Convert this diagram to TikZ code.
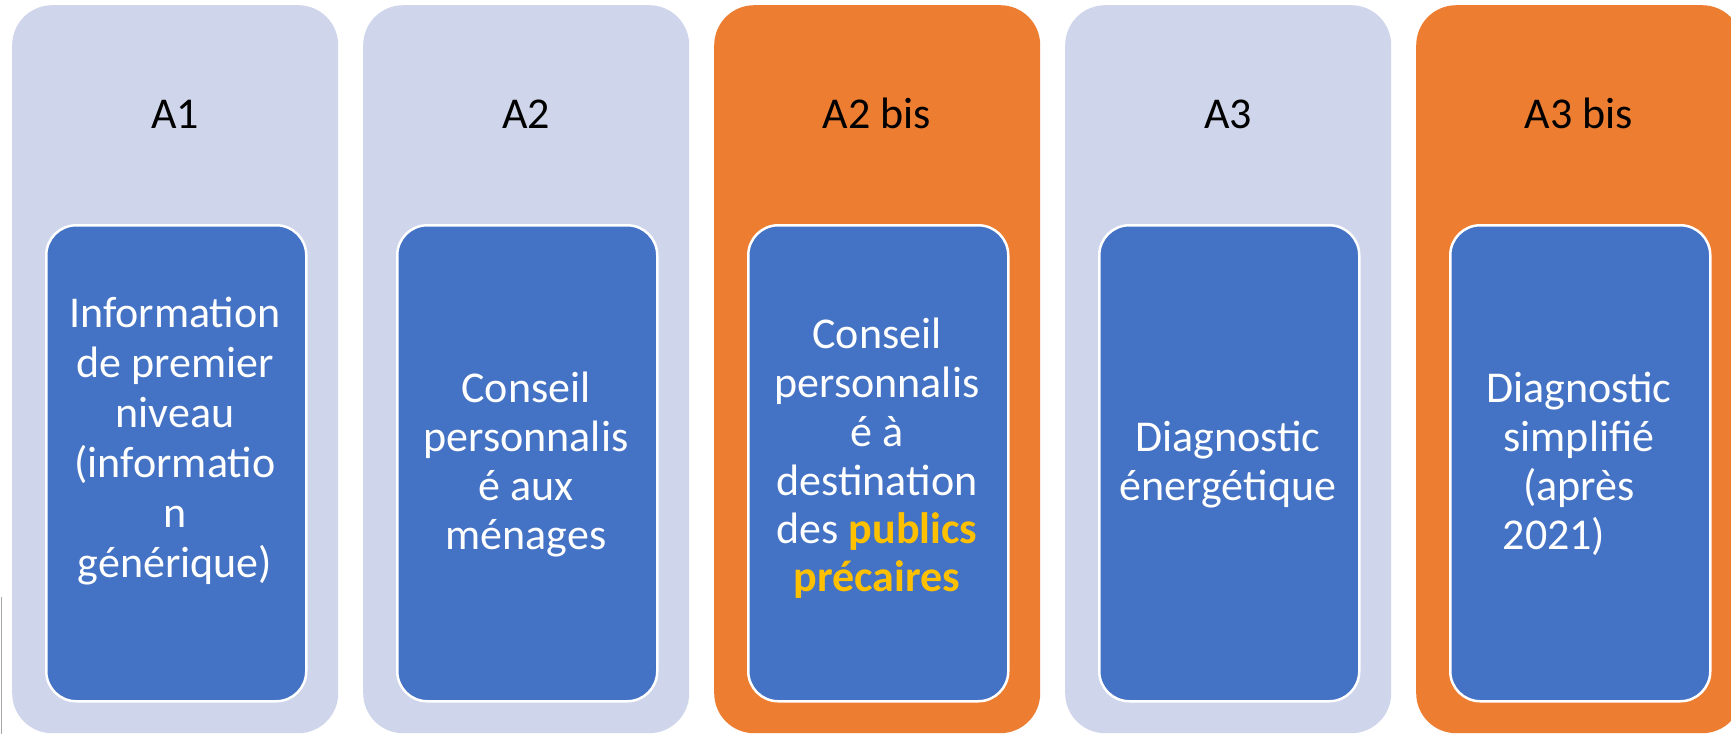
\documentclass[tikz,border=0pt]{standalone}
\usepackage{fontspec}
\setmainfont{Carlito}
\definecolor{outerlight}{HTML}{CFD5EA}
\definecolor{outerorange}{HTML}{ED7D31}
\definecolor{innerblue}{HTML}{4472C4}
\definecolor{hiyellow}{HTML}{FFC000}
\begin{document}
\begin{tikzpicture}[x=1pt,y=-1pt,
  outerbox/.style={rectangle, rounded corners=40pt, minimum width=326pt, minimum height=728pt, anchor=north west, inner sep=0pt},
  lightbox/.style={outerbox, fill=outerlight},
  orangebox/.style={outerbox, fill=outerorange},
  innerbox/.style={rectangle, fill=innerblue, draw=white, line width=2.5pt, rounded corners=30pt, minimum width=260pt, minimum height=476pt, anchor=north west, inner sep=0pt},
  title/.style={font=\fontsize{44pt}{50pt}\selectfont, text=black, anchor=base, inner sep=0pt},
  body/.style={font=\fontsize{44pt}{50pt}\selectfont, text=white, anchor=base, inner sep=0pt},
  hl/.style={body, text=hiyellow, font=\fontsize{44pt}{50pt}\selectfont\bfseries}
]
\useasboundingbox (0,0) rectangle (1731,734);
\clip (0,0) rectangle (1731,734);
\fill[white] (0,0) rectangle (1731,734);

% outer columns
\node[lightbox]  (o1) at (12,5) {};
\node[lightbox]  (o2) at (363,5) {};
\node[orangebox] (o3) at (714,5) {};
\node[lightbox]  (o4) at (1065,5) {};
\node[orangebox] (o5) at (1416,5) {};

% titles
\node[title] (t1) at (175,128) {A1};
\node[title] (t2) at (526,128) {A2};
\node[title] (t3) at (877,128) {A2 bis};
\node[title] (t4) at (1228,128) {A3};
\node[title] (t5) at (1579,128) {A3 bis};

% inner boxes
\node[innerbox] (i1) at (45,224) {};
\node[innerbox] (i2) at (396,224) {};
\node[innerbox] (i3) at (747,224) {};
\node[innerbox] (i4) at (1098,224) {};
\node[innerbox] (i5) at (1449,224) {};

% box 1 text
\node[body] (b1a) at (175,327) {Information};
\node[body] (b1b) at (175,377) {de premier};
\node[body] (b1c) at (175,427) {niveau};
\node[body] (b1d) at (175,477) {(informatio};
\node[body] (b1e) at (175,527) {n};
\node[body] (b1f) at (175,577) {générique)};

% box 2 text
\node[body] (b2a) at (526,402) {Conseil};
\node[body] (b2b) at (526,451) {personnalis};
\node[body] (b2c) at (526,500) {é aux};
\node[body] (b2d) at (526,549) {ménages};

% box 3 text
\node[body] (b3a) at (877,348) {Conseil};
\node[body] (b3b) at (877,397) {personnalis};
\node[body] (b3c) at (877,446) {é à};
\node[body] (b3d) at (877,495) {destination};
\node[body] (b3e) at (877,543) {des \textcolor{hiyellow}{\bfseries publics}};
\node[hl]   (b3f) at (877,591) {précaires};

% box 4 text
\node[body] (b4a) at (1228,451) {Diagnostic};
\node[body] (b4b) at (1228,500) {énergétique};

% box 5 text
\node[body] (b5a) at (1579,402) {Diagnostic};
\node[body] (b5b) at (1579,451) {simplifié};
\node[body] (b5c) at (1579,500) {(après};
\node[body] (b5d) at (1554,549) {2021)};

% screenshot edge artefact
\coordinate (g1) at (1.5,597);
\coordinate (g2) at (1.5,734);
\draw[gray!70, line width=1.5pt] (g1) -- (g2);
\end{tikzpicture}
\end{document}
